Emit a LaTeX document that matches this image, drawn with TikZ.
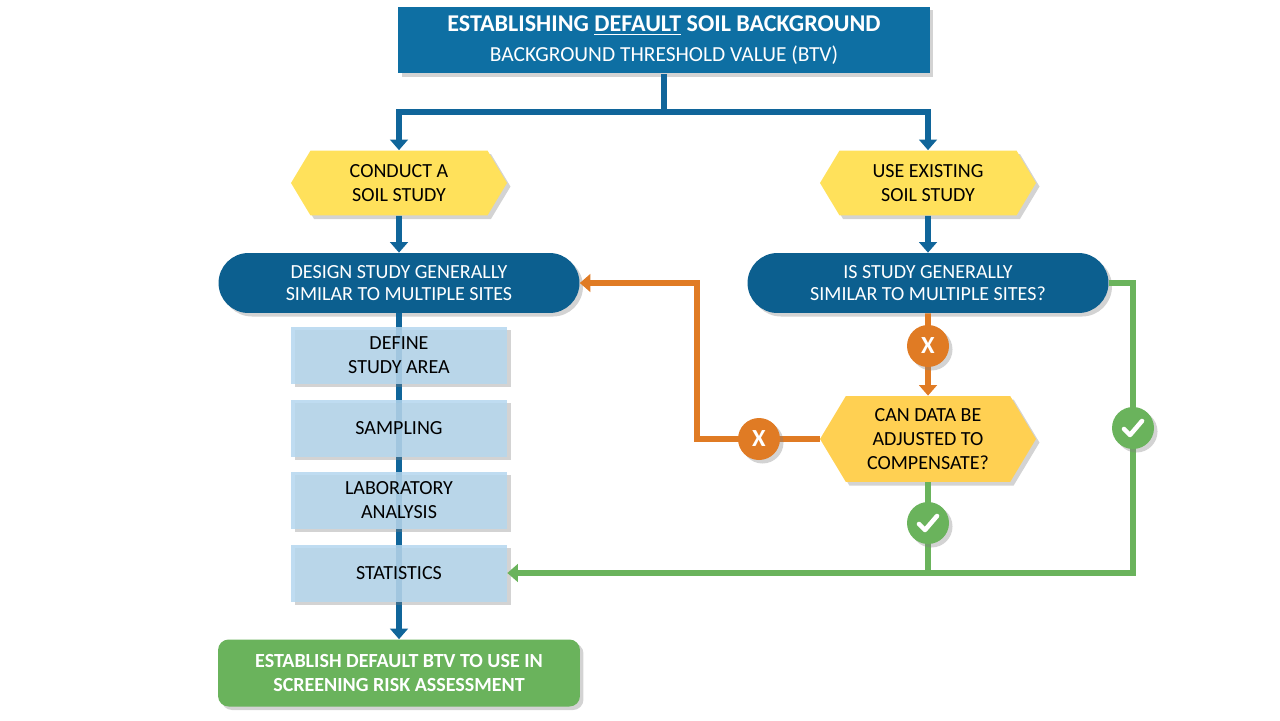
\documentclass[tikz,border=0pt]{standalone}
\usepackage{fontspec}
\setmainfont{Carlito}
\usetikzlibrary{positioning, arrows.meta, shapes.symbols, shadows}
\definecolor{titleblue}{HTML}{0E6FA3}
\definecolor{darkblue}{HTML}{0C5F8F}
\definecolor{lineblue}{HTML}{10659A}
\definecolor{hexyellow}{HTML}{FFE15B}
\definecolor{hexorange}{HTML}{FFD052}
\definecolor{lineorange}{HTML}{E07B24}
\definecolor{okgreen}{HTML}{6AB35C}
\definecolor{stepblue}{HTML}{B4D6EE}
\tikzset{
    shade/.style={drop shadow={shadow xshift=2pt, shadow yshift=-2pt, opacity=0.35}},
    titlebox/.style={rectangle, fill=titleblue, text=white, minimum width=10.64cm, minimum height=1.34cm, align=center, shade},
    hexnode/.style={signal, signal to=east and west, signal pointer angle=118, fill=hexyellow, minimum width=4.32cm, minimum height=1.3cm, align=center, font=\fontsize{11.4}{13.5}\selectfont, inner sep=0pt, shade},
    pill/.style={rectangle, rounded corners=0.6cm, fill=darkblue, text=white, minimum width=7.22cm, minimum height=1.2cm, align=center, font=\fontsize{11.4}{13}\selectfont, shade},
    stepbox/.style={rectangle, fill=stepblue, fill opacity=0.85, text opacity=1, minimum width=4.32cm, minimum height=1.14cm, align=center, font=\fontsize{11.4}{13.5}\selectfont, shade},
    endbox/.style={rectangle, rounded corners=6pt, fill=okgreen, text=white, minimum width=7.24cm, minimum height=1.34cm, align=center, font=\bfseries\fontsize{11.4}{13.5}\selectfont, shade},
    markcircle/.style={circle, minimum size=0.84cm, inner sep=0pt, text=white, font=\bfseries\fontsize{14}{14}\selectfont, shade},
    nomark/.style={markcircle, fill=lineorange},
    okmark/.style={markcircle, fill=okgreen},
    tickline/.style={white, line width=2.6pt, line cap=round, line join=round},
    blueline/.style={line width=3.2pt, draw=lineblue},
    orangeline/.style={line width=3.2pt, draw=lineorange},
    greenline/.style={line width=3.2pt, draw=okgreen},
    arrow/.style={-{Triangle[length=6pt, width=10pt]}}
}
\newcommand{\drawtick}[1]{\draw[tickline] ([shift={(-9,1)}]#1.center) -- ([shift={(-3,7)}]#1.center) -- ([shift={(9,-7)}]#1.center);}
\begin{document}
\begin{tikzpicture}[x=0.02cm, y=-0.02cm]
    \useasboundingbox (0,0) rectangle (1280,720);

    % Title
    \node[titlebox] (title) at (664,40) {{\bfseries\fontsize{13.7}{17}\selectfont ESTABLISHING \underline{DEFAULT} SOIL BACKGROUND}\\[5pt]{\fontsize{12.2}{15}\selectfont BACKGROUND THRESHOLD VALUE (BTV)}};
    \coordinate (split) at (664,112);

    % Branches
    \node[hexnode] (conduct) at (399,183) {CONDUCT A\\SOIL STUDY};
    \node[hexnode] (existing) at (928,183) {USE EXISTING\\SOIL STUDY};
    \node[pill] (design) at (399,283) {DESIGN STUDY GENERALLY\\SIMILAR TO MULTIPLE SITES};
    \node[pill] (similar) at (928,283) {IS STUDY GENERALLY\\SIMILAR TO MULTIPLE SITES?};

    % Study steps
    \node[endbox] (btv) at (399,673) {ESTABLISH DEFAULT BTV TO USE IN\\SCREENING RISK ASSESSMENT};
    \draw[blueline, arrow] (design) -- (btv);
    \node[stepbox] (area) at (399,355) {DEFINE\\STUDY AREA};
    \node[stepbox] (sampling) at (399,428) {SAMPLING};
    \node[stepbox] (lab) at (399,500) {LABORATORY\\ANALYSIS};
    \node[stepbox] (stats) at (399,573) {STATISTICS};

    % Adjust decision
    \node[hexnode, fill=hexorange, minimum height=1.72cm] (adjust) at (928,439) {CAN DATA BE\\ADJUSTED TO\\COMPENSATE?};

    % Blue connectors
    \draw[blueline] (title.south) -- (split);
    \draw[blueline, arrow] (split) -| (conduct.north);
    \draw[blueline, arrow] (split) -| (existing.north);
    \draw[blueline, arrow] (conduct) -- (design);
    \draw[blueline, arrow] (existing) -- (similar);

    % Orange connectors
    \coordinate (back) at (697,439);
    \draw[orangeline, arrow] (similar) -- (adjust);
    \draw[orangeline, arrow] (adjust.west) -- (back) |- (design.east);
    \node[nomark] (x1) at (928,346) {X};
    \node[nomark] (x2) at (759,439) {X};

    % Green connectors
    \coordinate (loop) at (1133,573);
    \draw[greenline] (adjust.south) -- (928,573);
    \draw[greenline, arrow] (similar.east) -| (loop) -- (stats.east);
    \node[okmark] (ok1) at (928,523) {};
    \node[okmark] (ok2) at (1133,428) {};
    \drawtick{ok1}
    \drawtick{ok2}
\end{tikzpicture}
\end{document}
